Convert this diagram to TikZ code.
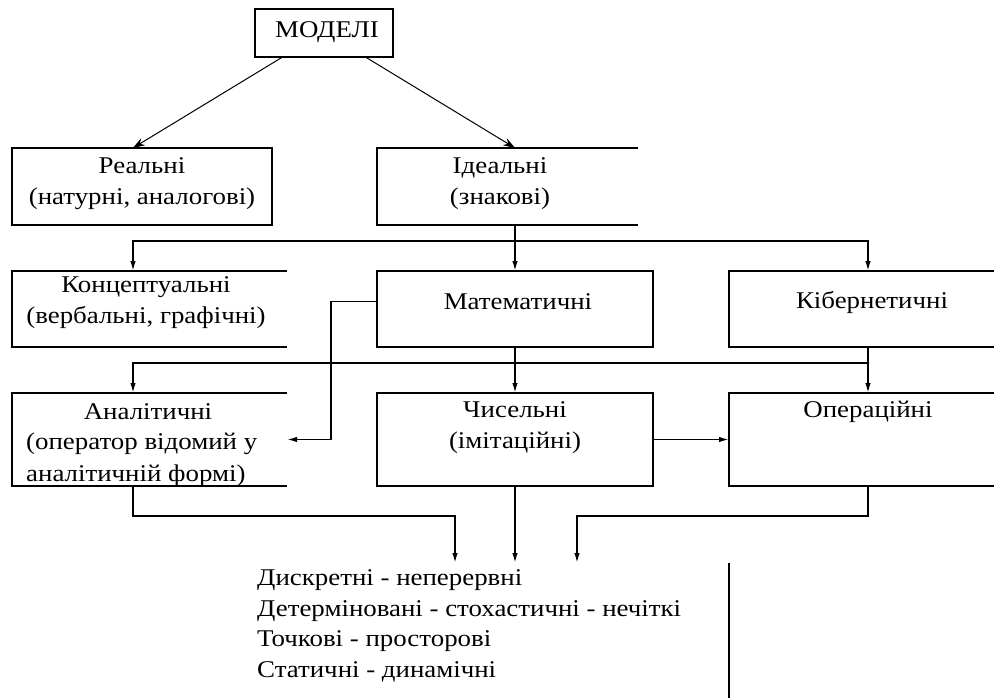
\documentclass[tikz,border=0pt]{standalone}
\usepackage{fontspec}
\setmainfont{Liberation Serif}[FakeStretch=1.12]
\usetikzlibrary{arrows.meta,calc}
\begin{document}
\begin{tikzpicture}[x=1pt,y=-1pt,
  ln/.style={line width=1.6pt},
  arr/.style={ln,-{Latex[length=10pt,width=5.5pt]}},
  darr/.style={line width=1pt,-{Stealth[length=12pt,width=8pt]}},
  frame/.style={draw=none,inner sep=0pt,outer sep=0pt,rectangle},
  txt/.style={font=\fontsize{24}{31}\selectfont,inner sep=0pt,align=center},
  listtxt/.style={font=\fontsize{24}{30.5}\selectfont,inner sep=0pt,align=left,anchor=west}]
\useasboundingbox (0,0) rectangle (994,698);
% frames
\node[frame,minimum width=138pt,minimum height=48pt] (mod) at (324,33) {};
\node[frame,minimum width=260pt,minimum height=77pt] (real) at (142,186.5) {};
\node[frame,minimum width=261pt,minimum height=77pt] (ideal) at (507.5,186.5) {};
\node[frame,minimum width=275pt,minimum height=76pt] (conc) at (149.5,309) {};
\node[frame,minimum width=276pt,minimum height=76pt] (math) at (515,309) {};
\node[frame,minimum width=265pt,minimum height=76pt] (cyb) at (861.5,309) {};
\node[frame,minimum width=275pt,minimum height=93pt] (anal) at (149.5,439.5) {};
\node[frame,minimum width=276pt,minimum height=93pt] (num) at (515,439.5) {};
\node[frame,minimum width=265pt,minimum height=93pt] (oper) at (861.5,439.5) {};
% frame sides
\draw[ln] (mod.south west) rectangle (mod.north east);
\draw[ln] (real.south west) rectangle (real.north east);
\draw[ln] (ideal.north east) -- (ideal.north west) -- (ideal.south west) -- (ideal.south east);
\draw[ln] (conc.north east) -- (conc.north west) -- (conc.south west) -- (conc.south east);
\draw[ln] (math.south west) rectangle (math.north east);
\draw[ln] (cyb.north east) -- (cyb.north west) -- (cyb.south west) -- (cyb.south east);
\draw[ln] (anal.north east) -- (anal.north west) -- (anal.south west) -- (anal.south east);
\draw[ln] (num.south west) rectangle (num.north east);
\draw[ln] (oper.north east) -- (oper.north west) -- (oper.south west) -- (oper.south east);
% texts
\node[txt] (tmod) at (327,32) {МОДЕЛІ};
\node[txt] (treal) at (142,183.5) {Реальні\\(натурні, аналогові)};
\node[txt] (tideal) at (500,183.5) {Ідеальні\\(знакові)};
\node[txt] (tconc) at (146,303) {Концептуальні\\(вербальні, графічні)};
\node[txt] (tmath) at (518,302) {Математичні};
\node[txt] (tcyb) at (872,302) {Кібернетичні};
\node[txt] (tanal1) at (148,412) {Аналітичні};
\node[listtxt,font=\fontsize{24}{32}\selectfont] (tanal2) at (26,460) {(оператор відомий у\\аналітичній формі)};
\node[txt] (tnum) at (515,428) {Чисельні\\(імітаційні)};
\node[txt] (toper) at (868,412) {Операційні};
\node[listtxt] (list) at (257,626) {Дискретні - неперервні\\Детерміновані - стохастичні - нечіткі\\Точкові - просторові\\Статичні - динамічні};
% helper coordinates
\coordinate (cL) at (133,0);
\coordinate (cM) at (515,0);
\coordinate (cR) at (868,0);
\coordinate (bus1) at (0,241);
\coordinate (bus2) at (0,363);
\coordinate (bus3) at (0,516);
\coordinate (jog) at (331,0);
\coordinate (aL) at (455,0);
\coordinate (aR) at (577,0);
\coordinate (tipy) at (0,563);
\coordinate (bot) at (0,698);
% connectors
\draw[darr] ($(mod.south west)!0.2!(mod.south east)$) -- ($(real.north west)!0.465!(real.north east)$);
\draw[darr] ($(mod.south west)!0.8!(mod.south east)$) -- ($(ideal.north west)!0.529!(ideal.north east)$);
\draw[ln] (ideal.south -| cM) -- (bus1 -| cM);
\draw[arr] (bus1 -| cM) -| (conc.north -| cL);
\draw[arr] (bus1 -| cM) -- (math.north);
\draw[arr] (bus1 -| cM) -| (cyb.north -| cR);
\draw[ln] (math.south) -- (bus2 -| cM);
\draw[ln] (cyb.south -| cR) -- (bus2 -| cR);
\draw[arr] (bus2 -| cR) -| (anal.north -| cL);
\draw[arr] (bus2 -| cM) -- (num.north);
\draw[arr] (bus2 -| cR) -- (oper.north -| cR);
\draw[arr] ($(math.north west)!0.4!(math.south west)$) -| (jog |- anal.east) -- (anal.east);
\draw[arr] (num.east) -- (oper.west);
\draw[arr] (anal.south -| cL) |- (bus3 -| aL) -- (tipy -| aL);
\draw[arr] (num.south) -- (tipy -| num.south);
\draw[arr] (oper.south -| cR) |- (bus3 -| aR) -- (tipy -| aR);
\draw[ln] (tipy -| oper.west) -- (bot -| oper.west);
\end{tikzpicture}
\end{document}
